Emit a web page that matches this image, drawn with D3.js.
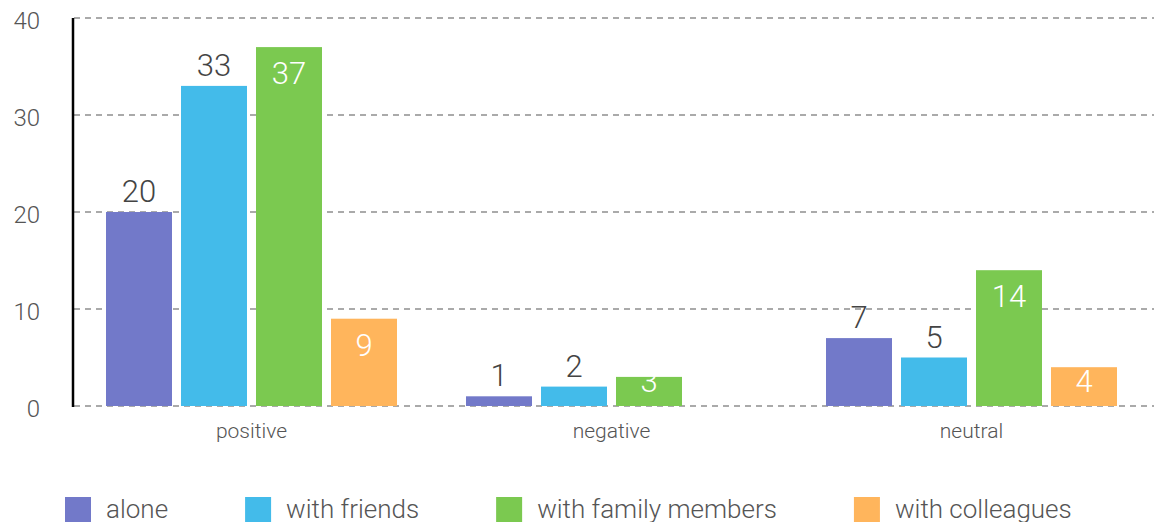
<!DOCTYPE html>
<html>
<head>
<meta charset="utf-8">
<script src="https://cdn.jsdelivr.net/npm/d3@7"></script>
<style>
  html, body { margin: 0; padding: 0; background: #fff; }
  svg { display: block; font-family: "Roboto", "Liberation Sans", sans-serif; font-weight: 300; }
</style>
</head>
<body>
<svg id="chart" width="1154" height="522"></svg>
<script>
const categories = ["positive", "negative", "neutral"];
const seriesNames = ["alone", "with friends", "with family members", "with colleagues"];
const alone = [20, 1, 7];
const withFriends = [33, 2, 5];
const withFamily = [37, 3, 14];
const withColleagues = [9, 0, 4];
const yTicks = [0, 10, 20, 30, 40];
const colors = ["#7279c9", "#43bbea", "#7bc950", "#ffb55c"];
const labelInside = [false, false, true, true];

const seriesValues = [alone, withFriends, withFamily, withColleagues];

const svg = d3.select("#chart");
const W = 1154, H = 522;
const axisX = 73;

const y = d3.scaleLinear().domain([0, 40]).range([406, 18]);
const x0 = d3.scaleBand().domain(categories).range([axisX, axisX + 1080]).padding(0);
const x1 = d3.scaleBand().domain(seriesNames).range([33, 324]).paddingInner(0.12).paddingOuter(0);

// gridlines
svg.append("g").selectAll("line").data(yTicks).join("line")
  .attr("x1", axisX + 1).attr("x2", W)
  .attr("y1", d => y(d)).attr("y2", d => y(d))
  .attr("stroke", "#aaaaaa").attr("stroke-width", 2)
  .attr("stroke-dasharray", "6,5");

// y tick labels
const yAxis = d3.axisLeft(y).tickValues(yTicks).tickSize(0).tickPadding(0);
const gy = svg.append("g").attr("transform", "translate(40,0)").call(yAxis);
gy.select(".domain").remove();
gy.selectAll("text").attr("font-size", 24).attr("fill", "#555")
  .attr("font-family", "Roboto, sans-serif").attr("font-weight", 300).attr("dy", "0.42em");

// bars
const data = [];
categories.forEach((c, ci) => {
  seriesNames.forEach((s, si) => {
    data.push({cat: c, ser: s, si: si, v: seriesValues[si][ci]});
  });
});
const barData = data.filter(d => d.v > 0);

const gBars = svg.append("g");
gBars.selectAll("rect").data(barData).join("rect")
  .attr("x", d => x0(d.cat) + x1(d.ser))
  .attr("y", d => y(d.v))
  .attr("width", x1.bandwidth())
  .attr("height", d => y(0) - y(d.v))
  .attr("fill", d => colors[d.si]);

gBars.selectAll("text").data(barData).join("text")
  .attr("x", d => x0(d.cat) + x1(d.ser) + x1.bandwidth() / 2)
  .attr("y", d => labelInside[d.si] ? Math.min(y(d.v) + 37, y(0) - 14) : y(d.v) - 10)
  .attr("text-anchor", "middle")
  .attr("font-size", 31)
  .attr("fill", d => labelInside[d.si] ? "#ffffff" : "#444444")
  .text(d => d.v);

// y axis line
svg.append("line")
  .attr("x1", axisX).attr("x2", axisX)
  .attr("y1", y(40)).attr("y2", y(0) + 1)
  .attr("stroke", "#000").attr("stroke-width", 2.5);

// category labels
svg.append("g").selectAll("text").data(categories).join("text")
  .attr("x", d => x0(d) + 33 + 291 / 2)
  .attr("y", 438)
  .attr("text-anchor", "middle")
  .attr("font-size", 21)
  .attr("fill", "#555")
  .text(d => d);

// legend
const legend = svg.append("g");
let lx = 65;
seriesNames.forEach((s, i) => {
  legend.append("rect").attr("x", lx).attr("y", 497).attr("width", 26).attr("height", 26).attr("fill", colors[i]);
  const t = legend.append("text").attr("x", lx + 41).attr("y", 518)
    .attr("font-size", 26).attr("fill", "#555").text(s);
  const w = t.node().getComputedTextLength();
  lx = lx + 41 + w + 77;
});
</script>
</body>
</html>
